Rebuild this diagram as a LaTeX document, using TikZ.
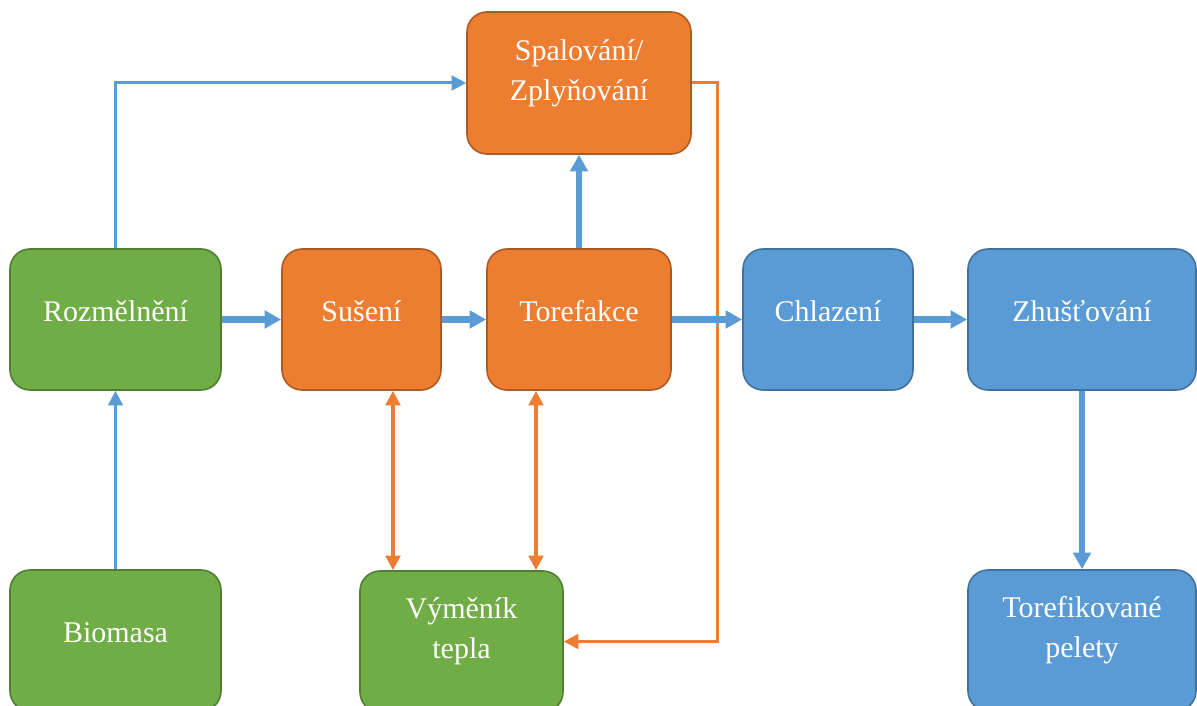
\documentclass[tikz,border=0pt]{standalone}
\usepackage{fontspec}
\setmainfont{Liberation Serif}
\usetikzlibrary{arrows.meta}
\definecolor{grnFill}{HTML}{70AD47}
\definecolor{grnLine}{HTML}{507E32}
\definecolor{orgFill}{HTML}{ED7D31}
\definecolor{orgLine}{HTML}{AE5A21}
\definecolor{bluFill}{HTML}{5B9BD5}
\definecolor{bluLine}{HTML}{41719C}

\begin{document}
\begin{tikzpicture}[x = 0.75pt, y = -0.75pt, font=\fontsize{22.5}{30}\selectfont]
\tikzstyle{boxStyle} = [rounded corners = 15pt, line width = 1.2pt, text = white, align = center, inner sep = 0pt, text depth = 12.5pt, minimum height = 105.75pt]
\tikzstyle{twoLineStyle} = [text depth = 20pt]
\tikzstyle{greenStyle} = [boxStyle, fill = grnFill, draw = grnLine]
\tikzstyle{orangeStyle} = [boxStyle, fill = orgFill, draw = orgLine]
\tikzstyle{blueStyle} = [boxStyle, fill = bluFill, draw = bluLine]
\tikzstyle{thickEdgeStyle} = [draw = bluFill, line width = 4.5pt, -{Triangle[length = 12.5pt, width = 13pt]}]
\tikzstyle{thinEdgeStyle} = [draw = bluFill, line width = 2.25pt, -{Triangle[length = 11pt, width = 11pt]}]
\tikzstyle{heatEdgeStyle} = [draw = orgFill, line width = 2.6pt, {Triangle[length = 11pt, width = 11pt]}-{Triangle[length = 11pt, width = 11pt]}]
\tikzstyle{backEdgeStyle} = [draw = orgFill, line width = 2.25pt, -{Triangle[length = 11pt, width = 11pt]}]
\useasboundingbox (0,0) rectangle (1197,706);
\clip (0,0) rectangle (1197,706);
% boxes
\node[orangeStyle, twoLineStyle, minimum width = 168pt, minimum height = 106.5pt] (spal) at (579,83) {Spalování/\\Zplyňování};
\node[greenStyle, minimum width = 158.25pt] (rozm) at (115.5,319.5) {Rozmělnění};
\node[orangeStyle, minimum width = 119.25pt] (suse) at (361.5,319.5) {Sušení};
\node[orangeStyle, minimum width = 138pt] (tore) at (579,319.5) {Torefakce};
\node[blueStyle, minimum width = 127.5pt] (chla) at (828,319.5) {Chlazení};
\node[blueStyle, minimum width = 171pt] (zhus) at (1082,319.5) {Zhušťování};
\node[greenStyle, minimum width = 158.25pt] (biom) at (115.5,640.5) {Biomasa};
\node[greenStyle, twoLineStyle, minimum width = 152.25pt] (vyme) at (461.5,641.5) {Výměník\\tepla};
\node[blueStyle, twoLineStyle, minimum width = 171pt] (pele) at (1082,640.5) {Torefikované\\pelety};
% connectors
\draw[backEdgeStyle] (spal.east) -- ++(26,0) |- (vyme.east);
\draw[thinEdgeStyle] (biom) -- (rozm);
\draw[thinEdgeStyle] (rozm.north) |- (spal.west);
\draw[thickEdgeStyle] (rozm) -- (suse);
\draw[thickEdgeStyle] (suse) -- (tore);
\draw[thickEdgeStyle] (tore) -- (spal);
\draw[thickEdgeStyle] (tore) -- (chla);
\draw[thickEdgeStyle] (chla) -- (zhus);
\draw[thickEdgeStyle] (zhus) -- (pele);
\draw[heatEdgeStyle] ([xshift = 23.6pt]suse.south) -- ([xshift = 23.6pt]suse.south |- vyme.north);
\draw[heatEdgeStyle] ([xshift = -32.25pt]tore.south) -- ([xshift = -32.25pt]tore.south |- vyme.north);
\end{tikzpicture}
\end{document}
